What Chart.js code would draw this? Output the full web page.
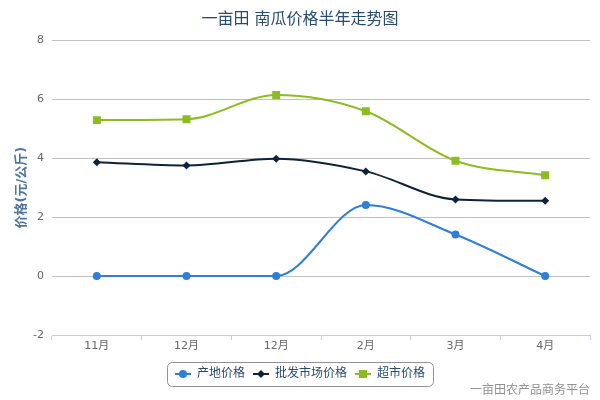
<!DOCTYPE html>
<html>
<head>
<meta charset="utf-8">
<title>一亩田 南瓜价格半年走势图</title>
<script src="https://cdn.jsdelivr.net/npm/chart.js@4.4.1/dist/chart.umd.min.js"></script>
<style>
  html, body { margin: 0; padding: 0; background: #fff; }
  #wrap { width: 600px; height: 400px; }
</style>
</head>
<body>
<div id="wrap"><canvas id="priceChart" width="600" height="400"></canvas></div>
<script>
// 一亩田 pumpkin price, last six months (元/公斤)
const months = ["11月", "12月", "12月", "2月", "3月", "4月"];
const originPrice = [0, 0, 0, 2.41, 1.41, 0];
const wholesalePrice = [3.86, 3.75, 3.98, 3.55, 2.6, 2.55];
const retailPrice = [5.29, 5.32, 6.14, 5.59, 3.91, 3.42];
const seriesNames = ["产地价格", "批发市场价格", "超市价格"];
const yMin = -2, yMax = 8, yStep = 2;

const COLORS = ["#2f7ed8", "#0d233a", "#8bbc21"];
const FONT = '"DejaVu Sans", "Noto Sans CJK SC", sans-serif';

// little line+marker swatch for the legend, highcharts style
function legendSwatch(color, shape) {
  const c = document.createElement("canvas");
  c.width = 16; c.height = 10;
  const g = c.getContext("2d");
  g.strokeStyle = color;
  g.lineWidth = 2;
  g.beginPath(); g.moveTo(0, 5); g.lineTo(16, 5); g.stroke();
  g.fillStyle = color;
  g.beginPath();
  if (shape === "circle") g.arc(8, 5, 4, 0, Math.PI * 2);
  else if (shape === "diamond") { g.moveTo(8, 1); g.lineTo(12, 5); g.lineTo(8, 9); g.lineTo(4, 5); g.closePath(); }
  else g.rect(4, 1, 8, 8);
  g.fill();
  return c;
}
const swatches = [
  legendSwatch(COLORS[0], "circle"),
  legendSwatch(COLORS[1], "diamond"),
  legendSwatch(COLORS[2], "square"),
];

const legendFrame = {
  id: "legendFrame",
  afterDraw(chart) {
    const boxes = chart.legend && chart.legend.legendHitBoxes;
    if (!boxes || !boxes.length) return;
    const left = Math.min(...boxes.map((b) => b.left));
    const right = Math.max(...boxes.map((b) => b.left + b.width));
    const top = boxes[0].top;
    const h = boxes[0].height;
    const ctx = chart.ctx;
    ctx.save();
    ctx.strokeStyle = "#909090";
    ctx.lineWidth = 1;
    ctx.beginPath();
    ctx.roundRect(Math.round(left - 8) + 0.5, Math.round(top - 6) + 0.5, Math.round(right - left + 16), Math.round(h + 12), 5);
    ctx.stroke();
    ctx.restore();
  },
};

const credits = {
  id: "credits",
  afterDraw(chart) {
    const ctx = chart.ctx;
    ctx.save();
    ctx.font = "12px " + FONT;
    ctx.fillStyle = "#909090";
    ctx.textAlign = "right";
    ctx.textBaseline = "middle";
    ctx.fillText("一亩田农产品商务平台", 590, 391);
    ctx.restore();
  },
};

const lineDefaults = {
  borderWidth: 2,
  cubicInterpolationMode: "monotone",
  fill: false,
  pointBorderWidth: 0,
};

new Chart(document.getElementById("priceChart"), {
  type: "line",
  data: {
    labels: months,
    datasets: [
      { ...lineDefaults, label: seriesNames[0], data: originPrice, borderColor: COLORS[0], backgroundColor: COLORS[0], pointStyle: "circle", pointRadius: 4 },
      { ...lineDefaults, label: seriesNames[1], data: wholesalePrice, borderColor: COLORS[1], backgroundColor: COLORS[1], pointStyle: "rectRot", pointRadius: 4 },
      { ...lineDefaults, label: seriesNames[2], data: retailPrice, borderColor: COLORS[2], backgroundColor: COLORS[2], pointStyle: "rect", pointRadius: 5.6 },
    ],
  },
  options: {
    responsive: false,
    animation: false,
    events: [],
    layout: { padding: { left: 10, right: 10, top: 0, bottom: 10 } },
    font: { family: FONT },
    plugins: {
      title: {
        display: true,
        text: "一亩田 南瓜价格半年走势图",
        color: "#274b6d",
        font: { family: FONT, size: 16, weight: "normal" },
        padding: { top: 10, bottom: 11 },
      },
      legend: {
        position: "bottom",
        labels: {
          usePointStyle: true,
          pointStyleWidth: 16,
          padding: 8,
          color: "#274b6d",
          font: { family: FONT, size: 12 },
          generateLabels(chart) {
            const items = Chart.defaults.plugins.legend.labels.generateLabels(chart);
            items.forEach((it, i) => { it.pointStyle = swatches[i]; });
            return items;
          },
        },
      },
      tooltip: { enabled: false },
    },
    scales: {
      x: {
        offset: true,
        border: { display: true, color: "#C0D0E0", width: 1 },
        grid: { display: true, drawOnChartArea: false, drawTicks: true, tickLength: 5, color: "#C0D0E0", offset: true },
        ticks: { color: "#666", font: { family: FONT, size: 11 }, padding: 0, maxRotation: 0 },
        afterFit(scale) { scale.height = 25; },
      },
      y: {
        min: yMin,
        max: yMax,
        border: { display: false },
        grid: {
          drawTicks: false,
          color: (ctx) => (ctx.tick && ctx.tick.value === yMin ? "rgba(0,0,0,0)" : "#C0C0C0"),
        },
        ticks: { stepSize: yStep, color: "#666", font: { family: FONT, size: 11 }, padding: 8 },
        title: {
          display: true,
          text: "价格(元/公斤)",
          color: "#4d759e",
          font: { family: FONT, size: 13, weight: "bold" },
          padding: { top: 4, bottom: 0 },
        },
        afterFit(scale) { scale.width = 42; },
      },
    },
  },
  plugins: [legendFrame, credits],
});
</script>
</body>
</html>
